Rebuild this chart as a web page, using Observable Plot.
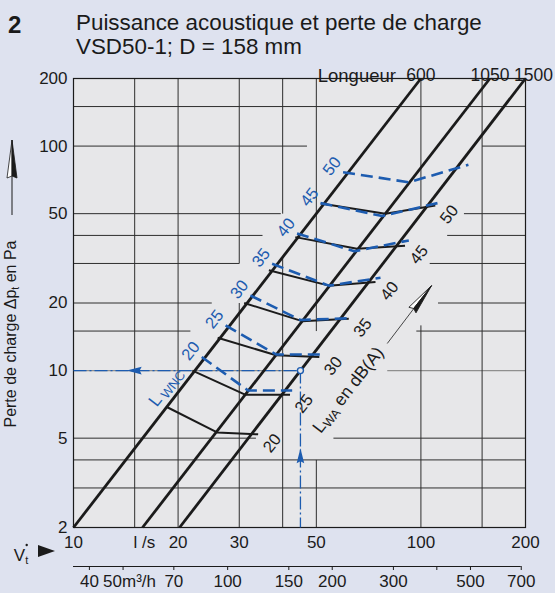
<!DOCTYPE html>
<html lang="fr">
<head>
<meta charset="utf-8">
<script src="https://cdn.jsdelivr.net/npm/d3@7"></script>
<script src="https://cdn.jsdelivr.net/npm/@observablehq/plot@0.6"></script>
<style>
html, body { margin:0; padding:0; background:#dee2ef; }
body { width:555px; height:593px; overflow:hidden; font-family:"Liberation Sans", Arial, Helvetica, sans-serif; color:#1a1a1a; }
#head { position:relative; height:60px; }
#head div { position:absolute; white-space:nowrap; line-height:1; }
#num { left:8px; top:13px; font-size:24px; font-weight:bold; }
#t1 { left:76px; top:12px; font-size:22.4px; }
#t2 { left:76px; top:36px; font-size:22.4px; }
#chart svg { display:block; }
</style>
</head>
<body>
<div id="head"><div id="num">2</div><div id="t1">Puissance acoustique et perte de charge</div><div id="t2">VSD50-1; D = 158 mm</div></div>
<div id="chart"></div>
<script>
// ---- data ----
const flowTicks = [10, 20, 30, 50, 100, 200];            // l/s
const pressureTicks = [200, 100, 50, 20, 10, 5, 2];     // Pa
const m3hTicks = [40, 50, 70, 100, 150, 200, 300, 400, 500, 700];
const m3hLabels = [40, 70, 100, 150, 200, 300, 500, 700];
const m3hUnitLabel = 50;

const lengthNames = ["600", "1050", "1500"];
const lengthFlowBottom = [10, 15.8, 20.2];   // flow where each length line meets 2 Pa
const lengthFlowTop = [100, 158, 200];       // flow where each length line meets 200 Pa
const pressureRange = [2, 200];
const flowRange = [10, 200];

const lwaLevels = [20, 25, 30, 35, 40, 45, 50];
const lwaFlow = [[18.5, 25.9, 34], [22, 31.3, 42], [26, 38.3, 51], [31, 45.5, 62], [36.5, 54.3, 74], [43.5, 65.5, 90], [51.5, 79, 110]];
const lwaPressure = [[6.9, 5.3, 5.2], [10, 7.8, 7.8], [14, 11.7, 11.5], [20, 16.6, 17], [28, 23.9, 24.8], [39.3, 34.9, 36], [55.5, 50, 54.4]];

const wncLevels = [20, 25, 30, 35, 40, 45, 50];
const wncFlow = [[23.4, 31.8, 42.6], [27.4, 38.3, 52], [32.3, 45, 62], [37.3, 54.3, 76.5], [44, 64.4, 92.3], [51.4, 77.4, 111.6], [59.7, 92.3, 137]];
const wncPressure = [[11.5, 8.15, 8.15], [15.9, 11.8, 11.8], [21.6, 16.8, 17.1], [29.9, 23.9, 25.9], [40.8, 34, 38], [55.7, 48.8, 55.7], [76.5, 69, 82.5]];

const exampleFlow = 45, examplePressure = 10;
const exampleLeftArrowFlow = 15, exampleUpArrowPressure = 4.15;
const waArrowFrom = [80, 13.2], waArrowTo = [100.5, 21];
const wncTitleAt = [18.5, 8.4], waTitleAt = [61.9, 8.15];

const gridRows = [
  {p: 150, from: 10, to: 200},
  {p: 100, from: 10, to: 47}, {p: 100, from: 150, to: 200},
  {p: 50, from: 10, to: 39.5}, {p: 50, from: 133, to: 200},
  {p: 40, from: 10, to: 35}, {p: 40, from: 119, to: 200},
  {p: 30, from: 10, to: 30}, {p: 30, from: 106, to: 200},
  {p: 20, from: 10, to: 25}, {p: 20, from: 112, to: 200},
  {p: 15, from: 10, to: 21.7}, {p: 15, from: 97, to: 200},
  {p: 10, from: 10, to: 45}, {p: 10, from: 80, to: 200},
  {p: 5, from: 10, to: 33.5}, {p: 5, from: 56, to: 200},
  {p: 4, from: 10, to: 200},
  {p: 3, from: 10, to: 200}
];
const gridCols = [
  {v: 15, from: 2, to: 200},
  {v: 20, from: 2, to: 200},
  {v: 30, from: 2, to: 20}, {v: 30, from: 30, to: 200},
  {v: 40, from: 2, to: 32}, {v: 40, from: 50, to: 200},
  {v: 50, from: 2, to: 4}, {v: 50, from: 15, to: 200},
  {v: 100, from: 2, to: 15.9}, {v: 100, from: 53, to: 200},
  {v: 150, from: 2, to: 200}
];

// ---- derived tables ----
const blue = "#1d5cb0", ink = "#1b1b1b", paper = "#e7e7e9";
const lwaRows = lwaLevels.flatMap((level, i) => lwaFlow[i].map((v, j) => ({level, v, p: lwaPressure[i][j]})));
const wncRows = wncLevels.flatMap((level, i) => wncFlow[i].map((v, j) => ({level, v, p: wncPressure[i][j]})));
const lwaEnds = lwaLevels.map((level, i) => ({level, v: lwaFlow[i][2], p: lwaPressure[i][2]}));
const wncStarts = wncLevels.map((level, i) => ({level, v: wncFlow[i][0], p: wncPressure[i][0]}));
const lengthLines = lengthNames.map((name, i) => ({name, v1: lengthFlowBottom[i], p1: pressureRange[0], v2: lengthFlowTop[i], p2: pressureRange[1]}));
const lengthTops = lengthNames.map((name, i) => ({name, v: lengthFlowTop[i]}));
const exampleLinks = [
  {x1: flowRange[0], x2: exampleFlow, y1: examplePressure, y2: examplePressure},
  {x1: exampleFlow, x2: exampleFlow, y1: examplePressure, y2: pressureRange[0]}
];
const exampleArrows = [
  {v: exampleLeftArrowFlow, p: examplePressure, r: -90},
  {v: exampleFlow, p: exampleUpArrowPressure, r: 0}
];
const m3hTickRows = m3hTicks.map(m => ({v: m / 3.6, p: pressureRange[0]}));

const arrowHead = {draw(c) { c.moveTo(0, -8); c.lineTo(3.8, 7); c.lineTo(0, 5); c.lineTo(-3.8, 7); c.closePath(); }};
const halfL = {draw(c) { c.moveTo(0, -16); c.lineTo(-4.5, 15); c.lineTo(0, 13); c.closePath(); }};
const halfR = {draw(c) { c.moveTo(0, -16); c.lineTo(4.5, 15); c.lineTo(0, 13); c.closePath(); }};

const plot = Plot.plot({
  width: 555, height: 533,
  marginTop: 18, marginRight: 30, marginBottom: 66, marginLeft: 73,
  x: {type: "log", domain: flowRange, axis: null},
  y: {type: "log", domain: pressureRange, axis: null},
  style: {background: "transparent", fontFamily: "'Liberation Sans', Arial, Helvetica, sans-serif", fontSize: "17px", overflow: "visible", color: ink},
  marks: [
    Plot.frame({fill: paper, stroke: "none"}),
    Plot.link(gridRows.filter(d => d.p !== 10), {x1: "from", x2: "to", y1: "p", y2: "p", stroke: "#2e2e2e", strokeWidth: 1}),
    Plot.link(gridRows.filter(d => d.p === 10), {x1: "from", x2: "to", y1: "p", y2: "p", stroke: "#8f8f8f", strokeWidth: 1.2}),
    Plot.link(gridCols, {x1: "v", x2: "v", y1: "from", y2: "to", stroke: "#2e2e2e", strokeWidth: 1}),
    Plot.frame({stroke: ink, strokeWidth: 1.2}),
    Plot.link(exampleLinks, {x1: "x1", x2: "x2", y1: "y1", y2: "y2", stroke: blue, strokeWidth: 1.3, strokeDasharray: "13,3,2,3"}),
    Plot.dot(exampleArrows, {x: "v", y: "p", rotate: "r", symbol: arrowHead, r: 4, fill: blue, stroke: "none"}),
    Plot.link(lengthLines, {x1: "v1", y1: "p1", x2: "v2", y2: "p2", stroke: ink, strokeWidth: 2.8, strokeLinecap: "butt"}),
    Plot.line(lwaRows, {x: "v", y: "p", z: "level", stroke: ink, strokeWidth: 2, strokeLinejoin: "miter", strokeLinecap: "butt"}),
    Plot.line(wncRows, {x: "v", y: "p", z: "level", stroke: blue, strokeWidth: 2.6, strokeDasharray: "12,6", strokeLinejoin: "miter", strokeLinecap: "butt"}),
    Plot.dot([{v: exampleFlow, p: examplePressure}], {x: "v", y: "p", r: 3, stroke: blue, fill: paper, strokeWidth: 1.4}),
    Plot.text(lwaEnds, {x: "v", y: "p", text: d => String(d.level), dx: 14, dy: 9, rotate: -52, fill: ink, fontSize: 16.5}),
    Plot.text(wncStarts, {x: "v", y: "p", text: d => String(d.level), dx: -11, dy: -6, rotate: -52, fill: blue, fontSize: 16.5}),
    Plot.link([{a: waArrowFrom, b: waArrowTo}], {x1: d => d.a[0], y1: d => d.a[1], x2: d => d.b[0], y2: d => d.b[1], stroke: ink, strokeWidth: 0.8}),
    Plot.dot([waArrowTo], {x: d => d[0], y: d => d[1], symbol: halfL, rotate: 38, r: 4, fill: "white", stroke: ink, strokeWidth: 0.8}),
    Plot.dot([waArrowTo], {x: d => d[0], y: d => d[1], symbol: halfR, rotate: 38, r: 4, fill: ink, stroke: ink, strokeWidth: 0.8}),
    Plot.text(pressureTicks, {y: d => d, text: d => String(d), frameAnchor: "left", dx: -6, textAnchor: "end", fontSize: 17, fill: ink}),
    Plot.text(flowTicks, {x: d => d, text: d => String(d), frameAnchor: "bottom", dy: 20, fontSize: 17, fill: ink}),
    Plot.text(["l /s"], {text: d => d, frameAnchor: "bottom-left", dx: 60, dy: 20, textAnchor: "start", fontSize: 17, fill: ink}),
    Plot.ruleY([{p: pressureRange[0], a: flowRange[0], b: 700 / 3.6}], {y: "p", x1: "a", x2: "b", dy: 39, stroke: ink, strokeWidth: 1}),
    Plot.ruleX(m3hTickRows, {x: "v", y1: "p", y2: "p", insetBottom: -4, dy: 39, stroke: ink, strokeWidth: 1}),
    Plot.text(m3hLabels, {x: d => d / 3.6, text: d => String(d), frameAnchor: "bottom", dy: 59, fontSize: 17, fill: ink}),
    Plot.text([m3hUnitLabel], {x: d => d / 3.6, text: d => d + "m³/h", frameAnchor: "bottom", dy: 59, dx: -20, textAnchor: "start", fontSize: 17, fill: ink}),
    Plot.text(lengthTops.slice(0, 2), {x: "v", text: "name", frameAnchor: "top", dy: -10, fontSize: 17.5, fill: ink}),
    Plot.text(lengthTops.slice(2), {x: "v", text: "name", frameAnchor: "top", dy: -10, dx: 8, fontSize: 17.5, fill: ink}),
    Plot.text(lengthTops.slice(0, 1), {x: "v", text: () => "Longueur", frameAnchor: "top", dy: -10, dx: -25, textAnchor: "end", fontSize: 18.5, fill: ink})
  ]
});
document.getElementById("chart").appendChild(plot);

// ---- rich-text annotations (subscripts) ----
const svg = d3.select(plot);
const sx = plot.scale("x"), sy = plot.scale("y");
const font = "'Liberation Sans', Arial, Helvetica, sans-serif";

const wt = svg.append("text")
  .attr("transform", `translate(${sx.apply(wncTitleAt[0])},${sy.apply(wncTitleAt[1])}) rotate(-52)`)
  .attr("text-anchor", "middle").attr("dy", "0.32em").attr("fill", blue).attr("font-size", 17.5).attr("font-family", font);
wt.append("tspan").text("L");
wt.append("tspan").attr("font-size", 13).attr("dx", 3).attr("dy", 3).text("WNC");

const at = svg.append("text")
  .attr("transform", `translate(${sx.apply(waTitleAt[0])},${sy.apply(waTitleAt[1])}) rotate(-52)`)
  .attr("text-anchor", "middle").attr("dy", "0.32em").attr("fill", ink).attr("font-size", 17.5).attr("font-family", font);
at.append("tspan").text("L");
at.append("tspan").attr("font-size", 12.5).attr("dy", 3).text("WA");
at.append("tspan").attr("dy", -3).text(" en dB(A)");

// y-axis title with arrow
const yl = svg.append("text")
  .attr("transform", "translate(15.5,274) rotate(-90)")
  .attr("text-anchor", "middle").attr("fill", ink).attr("font-size", 16).attr("font-family", font);
yl.append("tspan").text("Perte de charge Δp");
yl.append("tspan").attr("font-size", 10.5).attr("dy", 3).text("t");
yl.append("tspan").attr("dy", -3).text(" en Pa");
svg.append("line").attr("x1", 12).attr("x2", 12).attr("y1", 155).attr("y2", 112).attr("stroke", ink).attr("stroke-width", 1);
svg.append("path").attr("d", "M12,80 L7,118 L12,116 Z").attr("fill", "white").attr("stroke", ink).attr("stroke-width", 0.8);
svg.append("path").attr("d", "M12,80 L17,118 L12,116 Z").attr("fill", ink).attr("stroke", ink).attr("stroke-width", 0.8);

// flow symbol V̇t ▶
const vt = svg.append("text").attr("x", 21).attr("y", 501).attr("fill", ink).attr("font-size", 17).attr("font-family", font);
vt.append("tspan").text("V");
vt.append("tspan").attr("font-size", 11).attr("dy", 3).text("t");
svg.append("circle").attr("cx", 26.7).attr("cy", 485).attr("r", 1.2).attr("fill", ink);
svg.append("path").attr("d", "M38,485 L38,497 L55,491 Z").attr("fill", ink);
</script>
</body>
</html>
